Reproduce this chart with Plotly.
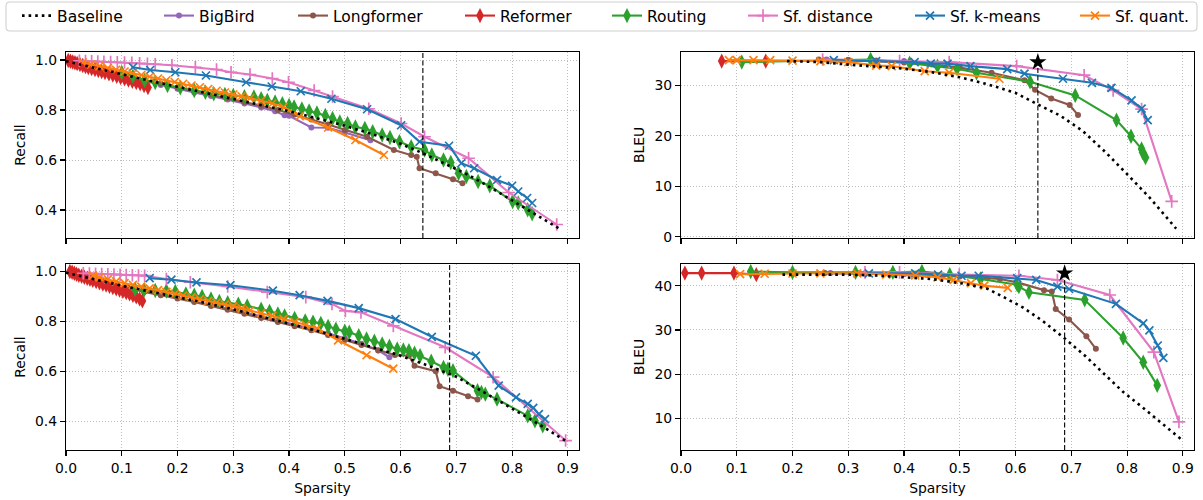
import plotly.graph_objects as go
from plotly.subplots import make_subplots

# ------------------------------------------------------------------ data
series_names = ["Baseline", "BigBird", "Longformer", "Reformer", "Routing",
                "Sf. distance", "Sf. k-means", "Sf. quant."]
sparsity_ticks = [0.0, 0.1, 0.2, 0.3, 0.4, 0.5, 0.6, 0.7, 0.8, 0.9]
recall_ticks = [0.4, 0.6, 0.8, 1.0]
bleu_ticks_top = [0, 10, 20, 30]
bleu_ticks_bottom = [10, 20, 30, 40]

# thresholds (vertical dashed line) and best points (star)
top_threshold = 0.64
top_star_bleu = 34.6
bottom_threshold = 0.688
bottom_star_bleu = 42.8

# ---- panel 1: top-left (Recall)
p1_baseline_x = [0.0, 0.05, 0.1, 0.15, 0.2, 0.25, 0.3, 0.35, 0.4, 0.45, 0.5, 0.55, 0.6, 0.64, 0.68, 0.72, 0.76, 0.8, 0.84, 0.889]
p1_baseline_y = [0.995, 0.968, 0.942, 0.917, 0.893, 0.869, 0.846, 0.821, 0.795, 0.767, 0.737, 0.703, 0.665, 0.627, 0.586, 0.542, 0.492, 0.44, 0.385, 0.32]
p1_bigbird_x = [0.02, 0.05, 0.08, 0.11, 0.14, 0.17, 0.2, 0.23, 0.26, 0.29, 0.32, 0.35, 0.375, 0.392, 0.40, 0.44, 0.47, 0.5, 0.546]
p1_bigbird_y = [0.985, 0.965, 0.948, 0.932, 0.916, 0.9, 0.885, 0.87, 0.856, 0.842, 0.826, 0.81, 0.795, 0.779, 0.777, 0.73, 0.729, 0.71, 0.679]
p1_longformer_x = [0.02, 0.05, 0.08, 0.11, 0.14, 0.17, 0.2, 0.23, 0.26, 0.29, 0.32, 0.35, 0.38, 0.41, 0.44, 0.47, 0.5, 0.54, 0.588, 0.619, 0.629, 0.634, 0.663, 0.694, 0.711]
p1_longformer_y = [0.987, 0.97, 0.953, 0.937, 0.921, 0.905, 0.89, 0.876, 0.862, 0.848, 0.832, 0.817, 0.8, 0.782, 0.762, 0.742, 0.72, 0.693, 0.64, 0.62, 0.613, 0.567, 0.547, 0.523, 0.507]
p1_reformer_x = [0.004, 0.008, 0.012, 0.016, 0.02, 0.025, 0.03, 0.035, 0.04, 0.046, 0.052, 0.058, 0.064, 0.07, 0.077, 0.084, 0.091, 0.098, 0.105, 0.112, 0.119, 0.126, 0.133, 0.14, 0.147]
p1_reformer_y = [0.998, 0.995, 0.992, 0.989, 0.986, 0.982, 0.978, 0.974, 0.97, 0.966, 0.962, 0.958, 0.954, 0.95, 0.945, 0.94, 0.935, 0.93, 0.925, 0.92, 0.915, 0.91, 0.905, 0.898, 0.89]
p1_routing_x = [0.10, 0.12, 0.141, 0.16, 0.182, 0.205, 0.23, 0.25, 0.265, 0.285, 0.30, 0.32, 0.337, 0.35, 0.361, 0.375, 0.388, 0.40, 0.409, 0.423, 0.436, 0.45, 0.465, 0.478, 0.491, 0.505, 0.519, 0.536, 0.55, 0.567, 0.581, 0.598, 0.619, 0.643, 0.656, 0.677, 0.69, 0.704, 0.718, 0.739, 0.76, 0.801, 0.811, 0.828, 0.836]
p1_routing_y = [0.95, 0.935, 0.918, 0.91, 0.898, 0.889, 0.878, 0.871, 0.865, 0.862, 0.858, 0.853, 0.852, 0.845, 0.838, 0.832, 0.825, 0.818, 0.812, 0.804, 0.796, 0.788, 0.778, 0.766, 0.752, 0.746, 0.732, 0.726, 0.713, 0.70, 0.69, 0.673, 0.653, 0.64, 0.62, 0.60, 0.59, 0.547, 0.534, 0.514, 0.497, 0.434, 0.428, 0.401, 0.385]
p1_sfdist_x = [0.024, 0.035, 0.046, 0.057, 0.068, 0.08, 0.092, 0.105, 0.118, 0.132, 0.146, 0.16, 0.19, 0.232, 0.27, 0.296, 0.33, 0.37, 0.399, 0.445, 0.478, 0.543, 0.601, 0.643, 0.722, 0.794, 0.88]
p1_sfdist_y = [0.997, 0.996, 0.995, 0.994, 0.993, 0.992, 0.991, 0.99, 0.989, 0.987, 0.985, 0.983, 0.979, 0.971, 0.962, 0.951, 0.942, 0.926, 0.911, 0.878, 0.854, 0.805, 0.746, 0.693, 0.607, 0.47, 0.342]
p1_sfkmeans_x = [0.12, 0.151, 0.196, 0.251, 0.323, 0.369, 0.421, 0.476, 0.54, 0.601, 0.634, 0.687, 0.709, 0.732, 0.773, 0.8, 0.811, 0.827, 0.836]
p1_sfkmeans_y = [0.971, 0.96, 0.951, 0.938, 0.911, 0.894, 0.875, 0.845, 0.803, 0.739, 0.673, 0.657, 0.587, 0.567, 0.52, 0.497, 0.474, 0.448, 0.428]
p1_sfquant_x = [0.03, 0.045, 0.06, 0.075, 0.09, 0.105, 0.12, 0.135, 0.15, 0.165, 0.18, 0.195, 0.21, 0.225, 0.24, 0.255, 0.27, 0.285, 0.30, 0.315, 0.33, 0.35, 0.37, 0.39, 0.419, 0.47, 0.519, 0.57]
p1_sfquant_y = [0.99, 0.982, 0.975, 0.968, 0.961, 0.954, 0.947, 0.94, 0.933, 0.926, 0.919, 0.912, 0.905, 0.898, 0.891, 0.884, 0.877, 0.87, 0.862, 0.855, 0.847, 0.837, 0.826, 0.812, 0.775, 0.73, 0.68, 0.62]

# ---- panel 2: top-right (BLEU)
p2_baseline_x = [0.19, 0.25, 0.3, 0.35, 0.4, 0.45, 0.5, 0.55, 0.6, 0.64, 0.68, 0.72, 0.76, 0.8, 0.84, 0.888]
p2_baseline_y = [34.8, 34.6, 34.1, 33.7, 33.3, 32.6, 31.6, 30.2, 28.5, 26.2, 24.0, 21.0, 16.9, 12.4, 7.8, 1.6]
p2_bigbird_x = [0.261, 0.3, 0.35, 0.4]
p2_bigbird_y = [35.1, 35.0, 34.9, 34.8]
p2_longformer_x = [0.247, 0.3, 0.35, 0.4, 0.45, 0.5, 0.557, 0.616, 0.635, 0.664, 0.697, 0.712]
p2_longformer_y = [35.1, 35.0, 34.8, 34.5, 34.1, 33.5, 32.5, 31.0, 29.1, 27.4, 26.1, 24.1]
p2_reformer_x = [0.073, 0.152]
p2_reformer_y = [34.8, 34.8]
p2_routing_x = [0.109, 0.34, 0.41, 0.46, 0.495, 0.53, 0.626, 0.707, 0.781, 0.807, 0.826, 0.828, 0.833]
p2_routing_y = [34.6, 35.1, 34.4, 33.8, 33.3, 32.5, 30.7, 28.0, 23.1, 19.9, 17.4, 16.7, 15.7]
p2_sfdist_x = [0.254, 0.392, 0.481, 0.602, 0.723, 0.775, 0.826, 0.88]
p2_sfdist_y = [35.1, 34.8, 34.6, 33.8, 32.0, 29.0, 25.3, 7.0]
p2_sfkmeans_x = [0.274, 0.35, 0.419, 0.448, 0.478, 0.519, 0.585, 0.616, 0.685, 0.737, 0.772, 0.808, 0.826, 0.837]
p2_sfkmeans_y = [35.0, 34.8, 34.6, 34.3, 34.3, 33.8, 33.2, 32.3, 31.3, 30.5, 29.5, 27.0, 25.4, 23.1]
p2_sfquant_x = [0.086, 0.1, 0.13, 0.16, 0.2, 0.25, 0.3, 0.35, 0.378, 0.437, 0.481, 0.571]
p2_sfquant_y = [35.0, 35.0, 35.0, 35.0, 34.9, 34.8, 34.6, 33.9, 33.8, 32.8, 32.5, 31.3]

# ---- panel 3: bottom-left (Recall)
p3_baseline_x = [0.0, 0.05, 0.1, 0.15, 0.2, 0.25, 0.3, 0.35, 0.4, 0.45, 0.5, 0.55, 0.6, 0.65, 0.7, 0.75, 0.8, 0.85, 0.9]
p3_baseline_y = [0.995, 0.968, 0.943, 0.92, 0.898, 0.874, 0.848, 0.82, 0.79, 0.762, 0.73, 0.697, 0.662, 0.622, 0.578, 0.515, 0.449, 0.385, 0.315]
p3_bigbird_x = [0.02, 0.05, 0.08, 0.11, 0.14, 0.17, 0.2, 0.23, 0.26, 0.29, 0.32, 0.35, 0.38, 0.41, 0.44, 0.47, 0.5, 0.53, 0.56, 0.58]
p3_bigbird_y = [0.985, 0.967, 0.952, 0.937, 0.921, 0.908, 0.895, 0.881, 0.866, 0.852, 0.836, 0.82, 0.804, 0.787, 0.77, 0.752, 0.732, 0.71, 0.684, 0.656]
p3_longformer_x = [0.02, 0.05, 0.08, 0.11, 0.14, 0.17, 0.2, 0.23, 0.26, 0.29, 0.32, 0.35, 0.38, 0.41, 0.44, 0.47, 0.5, 0.53, 0.56, 0.59, 0.615, 0.625, 0.663, 0.67, 0.694, 0.721, 0.738]
p3_longformer_y = [0.985, 0.966, 0.95, 0.935, 0.918, 0.905, 0.892, 0.878, 0.862, 0.847, 0.83, 0.813, 0.797, 0.78, 0.764, 0.745, 0.725, 0.705, 0.683, 0.665, 0.662, 0.622, 0.6, 0.54, 0.522, 0.5, 0.487]
p3_reformer_x = [0.007, 0.011, 0.015, 0.019, 0.023, 0.028, 0.033, 0.038, 0.043, 0.048, 0.054, 0.06, 0.066, 0.072, 0.078, 0.084, 0.09, 0.096, 0.102, 0.108, 0.114, 0.12, 0.126, 0.132, 0.137]
p3_reformer_y = [1.0, 0.997, 0.993, 0.989, 0.985, 0.981, 0.977, 0.973, 0.969, 0.965, 0.96, 0.955, 0.95, 0.946, 0.941, 0.936, 0.931, 0.926, 0.921, 0.915, 0.91, 0.904, 0.898, 0.89, 0.882]
p3_routing_x = [0.124, 0.14, 0.16, 0.18, 0.196, 0.215, 0.23, 0.244, 0.26, 0.275, 0.29, 0.309, 0.325, 0.35, 0.365, 0.38, 0.392, 0.41, 0.429, 0.443, 0.457, 0.47, 0.484, 0.5, 0.508, 0.525, 0.539, 0.553, 0.567, 0.58, 0.594, 0.605, 0.615, 0.625, 0.635, 0.655, 0.677, 0.685, 0.694, 0.738, 0.745, 0.752, 0.773, 0.828, 0.841, 0.855]
p3_routing_y = [0.929, 0.926, 0.924, 0.922, 0.92, 0.91, 0.905, 0.9, 0.89, 0.88, 0.875, 0.869, 0.862, 0.849, 0.84, 0.83, 0.822, 0.812, 0.802, 0.797, 0.792, 0.78, 0.769, 0.76, 0.756, 0.742, 0.729, 0.72, 0.709, 0.7, 0.689, 0.685, 0.682, 0.672, 0.662, 0.64, 0.615, 0.608, 0.602, 0.522, 0.515, 0.508, 0.488, 0.421, 0.401, 0.381]
p3_sfdist_x = [0.031, 0.042, 0.053, 0.064, 0.075, 0.086, 0.097, 0.108, 0.119, 0.13, 0.141, 0.18, 0.223, 0.29, 0.361, 0.43, 0.477, 0.501, 0.529, 0.587, 0.68, 0.766, 0.896]
p3_sfdist_y = [0.993, 0.992, 0.991, 0.99, 0.989, 0.988, 0.987, 0.986, 0.985, 0.984, 0.983, 0.97, 0.957, 0.94, 0.917, 0.897, 0.87, 0.842, 0.836, 0.782, 0.696, 0.576, 0.322]
p3_sfkmeans_x = [0.15, 0.189, 0.234, 0.295, 0.371, 0.419, 0.469, 0.525, 0.591, 0.656, 0.735, 0.776, 0.807, 0.828, 0.838, 0.848, 0.859]
p3_sfkmeans_y = [0.973, 0.967, 0.956, 0.945, 0.923, 0.905, 0.882, 0.853, 0.809, 0.738, 0.662, 0.542, 0.495, 0.469, 0.453, 0.428, 0.408]
p3_sfquant_x = [0.048, 0.06, 0.075, 0.09, 0.105, 0.12, 0.135, 0.15, 0.165, 0.18, 0.195, 0.21, 0.225, 0.24, 0.255, 0.27, 0.285, 0.3, 0.315, 0.33, 0.35, 0.37, 0.39, 0.41, 0.43, 0.45, 0.488, 0.539, 0.587]
p3_sfquant_y = [0.983, 0.976, 0.968, 0.96, 0.953, 0.946, 0.939, 0.932, 0.925, 0.918, 0.91, 0.903, 0.896, 0.889, 0.882, 0.875, 0.868, 0.86, 0.852, 0.844, 0.833, 0.822, 0.81, 0.798, 0.786, 0.772, 0.724, 0.664, 0.61]

# ---- panel 4: bottom-right (BLEU)
p4_baseline_x = [0.182, 0.25, 0.3, 0.35, 0.406, 0.45, 0.51, 0.55, 0.579, 0.613, 0.648, 0.689, 0.724, 0.758, 0.793, 0.827, 0.862, 0.9]
p4_baseline_y = [42.5, 42.5, 42.5, 42.3, 41.9, 41.5, 40.4, 39.3, 37.4, 35.1, 32.1, 28.0, 24.25, 20.1, 16.0, 12.6, 8.9, 5.0]
p4_bigbird_x = [0.268, 0.33, 0.4, 0.47, 0.55]
p4_bigbird_y = [42.85, 42.8, 42.6, 42.3, 41.8]
p4_longformer_x = [0.258, 0.32, 0.38, 0.44, 0.5, 0.572, 0.603, 0.651, 0.665, 0.672, 0.696, 0.727, 0.744]
p4_longformer_y = [42.85, 42.8, 42.7, 42.5, 42.1, 41.5, 40.75, 39.0, 38.7, 34.75, 32.35, 28.6, 25.75]
p4_reformer_x = [0.007, 0.037, 0.095, 0.135]
p4_reformer_y = [42.85, 42.85, 42.85, 42.5]
p4_routing_x = [0.125, 0.2, 0.313, 0.38, 0.432, 0.482, 0.537, 0.603, 0.606, 0.624, 0.724, 0.793, 0.829, 0.854]
p4_routing_y = [43.2, 43.0, 43.0, 43.0, 43.2, 42.5, 41.5, 40.2, 39.8, 38.5, 36.8, 28.2, 22.7, 17.5]
p4_sfdist_x = [0.33, 0.392, 0.499, 0.606, 0.675, 0.769, 0.848, 0.893]
p4_sfdist_y = [43.0, 43.0, 42.5, 42.25, 41.3, 37.9, 25.0, 9.25]
p4_sfkmeans_x = [0.337, 0.42, 0.461, 0.503, 0.534, 0.603, 0.637, 0.675, 0.696, 0.78, 0.829, 0.84, 0.855, 0.865]
p4_sfkmeans_y = [42.8, 42.8, 42.5, 42.25, 42.25, 41.7, 41.3, 39.8, 39.25, 35.9, 31.5, 29.9, 26.5, 23.7]
p4_sfquant_x = [0.106, 0.15, 0.2, 0.25, 0.316, 0.368, 0.42, 0.46, 0.489, 0.52, 0.544, 0.586]
p4_sfquant_y = [42.6, 42.7, 42.75, 42.8, 42.8, 42.5, 42.3, 41.9, 41.3, 40.6, 40.0, 39.5]

panels = [
    {"Baseline": (p1_baseline_x, p1_baseline_y), "BigBird": (p1_bigbird_x, p1_bigbird_y),
     "Longformer": (p1_longformer_x, p1_longformer_y), "Reformer": (p1_reformer_x, p1_reformer_y),
     "Routing": (p1_routing_x, p1_routing_y), "Sf. distance": (p1_sfdist_x, p1_sfdist_y),
     "Sf. k-means": (p1_sfkmeans_x, p1_sfkmeans_y), "Sf. quant.": (p1_sfquant_x, p1_sfquant_y)},
    {"Baseline": (p2_baseline_x, p2_baseline_y), "BigBird": (p2_bigbird_x, p2_bigbird_y),
     "Longformer": (p2_longformer_x, p2_longformer_y), "Reformer": (p2_reformer_x, p2_reformer_y),
     "Routing": (p2_routing_x, p2_routing_y), "Sf. distance": (p2_sfdist_x, p2_sfdist_y),
     "Sf. k-means": (p2_sfkmeans_x, p2_sfkmeans_y), "Sf. quant.": (p2_sfquant_x, p2_sfquant_y)},
    {"Baseline": (p3_baseline_x, p3_baseline_y), "BigBird": (p3_bigbird_x, p3_bigbird_y),
     "Longformer": (p3_longformer_x, p3_longformer_y), "Reformer": (p3_reformer_x, p3_reformer_y),
     "Routing": (p3_routing_x, p3_routing_y), "Sf. distance": (p3_sfdist_x, p3_sfdist_y),
     "Sf. k-means": (p3_sfkmeans_x, p3_sfkmeans_y), "Sf. quant.": (p3_sfquant_x, p3_sfquant_y)},
    {"Baseline": (p4_baseline_x, p4_baseline_y), "BigBird": (p4_bigbird_x, p4_bigbird_y),
     "Longformer": (p4_longformer_x, p4_longformer_y), "Reformer": (p4_reformer_x, p4_reformer_y),
     "Routing": (p4_routing_x, p4_routing_y), "Sf. distance": (p4_sfdist_x, p4_sfdist_y),
     "Sf. k-means": (p4_sfkmeans_x, p4_sfkmeans_y), "Sf. quant.": (p4_sfquant_x, p4_sfquant_y)},
]

# ------------------------------------------------------------------ style
W, H = 1203, 500
FONT = "DejaVu Sans"
TICK_FS = 13.9
LEG_FS = 15.5

styles = {
    "Baseline":     dict(color="black",   symbol=None),
    "BigBird":      dict(color="#9467bd", symbol="circle", size=6),
    "Longformer":   dict(color="#8c564b", symbol="circle", size=6),
    "Reformer":     dict(color="#d62728", symbol="diamond-tall", size=11),
    "Routing":      dict(color="#2ca02c", symbol="diamond-tall", size=11),
    "Sf. distance": dict(color="#e377c2", symbol="cross-thin", size=9),
    "Sf. k-means":  dict(color="#1f77b4", symbol="x-thin", size=8),
    "Sf. quant.":   dict(color="#ff7f0e", symbol="x-thin", size=8),
}
draw_order = ["BigBird", "Longformer", "Reformer", "Routing", "Sf. distance",
              "Sf. k-means", "Sf. quant.", "Baseline"]

fig = make_subplots(rows=2, cols=2)
cells = [(1, 1), (1, 2), (2, 1), (2, 2)]

for pi, (r, c) in enumerate(cells):
    data = panels[pi]
    for name in draw_order:
        xs, ys = data[name]
        st = styles[name]
        li = series_names.index(name)
        legend_id = "legend" if li == 0 else f"legend{li + 1}"
        if name == "Baseline":
            tr = go.Scatter(x=xs, y=ys, mode="lines", name=name,
                            line=dict(color="black", width=2.6, dash="2.6px,4px"))
        else:
            mk = dict(symbol=st["symbol"], size=st["size"], color=st["color"])
            if st["symbol"] in ("cross-thin", "x-thin"):
                mk["line"] = dict(color=st["color"], width=1.7)
            else:
                mk["line"] = dict(width=0)
            tr = go.Scatter(x=xs, y=ys, mode="lines+markers", name=name,
                            line=dict(color=st["color"], width=2.1), marker=mk)
        tr.update(legend=legend_id, showlegend=(pi == 0))
        fig.add_trace(tr, row=r, col=c)

# stars at the best configuration
fig.add_trace(go.Scatter(x=[top_threshold], y=[top_star_bleu], mode="markers",
                         marker=dict(symbol="star", size=13, color="black"),
                         showlegend=False), row=1, col=2)
fig.add_trace(go.Scatter(x=[bottom_threshold], y=[bottom_star_bleu], mode="markers",
                         marker=dict(symbol="star", size=13, color="black"),
                         showlegend=False), row=2, col=2)

# ------------------------------------------------------------------ axes
xl = [66 / W, 579 / W]
xr = [681 / W, 1194 / W]
yt = [1 - 238 / H, 1 - 52 / H]
yb = [1 - 450 / H, 1 - 264 / H]

common = dict(showline=True, linecolor="black", linewidth=1.1, mirror=True,
              ticks="outside", ticklen=5, tickwidth=1.1, tickcolor="black",
              showgrid=True, gridcolor="#bdbdbd", gridwidth=1, griddash="1px,2px",
              zeroline=False, automargin=False,
              tickfont=dict(family=FONT, size=TICK_FS, color="black"))

xr_range = [0, 0.92]
tfont = dict(family=FONT, size=TICK_FS, color="black")
fig.update_layout(
    xaxis=dict(common, domain=xl, range=xr_range, tickvals=sparsity_ticks, showticklabels=False),
    xaxis2=dict(common, domain=xr, range=xr_range, tickvals=sparsity_ticks, showticklabels=False),
    xaxis3=dict(common, domain=xl, range=xr_range, tickvals=sparsity_ticks, tickformat=".1f",
                title=dict(text="Sparsity", font=tfont, standoff=8)),
    xaxis4=dict(common, domain=xr, range=xr_range, tickvals=sparsity_ticks, tickformat=".1f",
                title=dict(text="Sparsity", font=tfont, standoff=8)),
    yaxis=dict(common, domain=yt, range=[0.288, 1.032], tickvals=recall_ticks, tickformat=".1f",
               title=dict(text="Recall", font=tfont, standoff=6)),
    yaxis2=dict(common, domain=yt, range=[-0.25, 36.6], tickvals=bleu_ticks_top,
                title=dict(text="BLEU", font=tfont, standoff=6)),
    yaxis3=dict(common, domain=yb, range=[0.284, 1.03], tickvals=recall_ticks, tickformat=".1f",
                title=dict(text="Recall", font=tfont, standoff=6)),
    yaxis4=dict(common, domain=yb, range=[2.9, 44.9], tickvals=bleu_ticks_bottom,
                title=dict(text="BLEU", font=tfont, standoff=6)),
)

# vertical dashed threshold lines
dash_line = dict(color="black", width=1.1, dash="5px,2.5px")
fig.add_shape(type="line", xref="x", yref="y domain", x0=top_threshold, x1=top_threshold,
              y0=0, y1=1, line=dash_line)
fig.add_shape(type="line", xref="x2", yref="y2", x0=top_threshold, x1=top_threshold,
              y0=-0.25, y1=top_star_bleu, line=dash_line)
fig.add_shape(type="line", xref="x3", yref="y3 domain", x0=bottom_threshold, x1=bottom_threshold,
              y0=0, y1=1, line=dash_line)
fig.add_shape(type="line", xref="x4", yref="y4", x0=bottom_threshold, x1=bottom_threshold,
              y0=2.9, y1=bottom_star_bleu, line=dash_line)

# legend frame (rounded)
lx0, lx1 = 6 / W, 1197 / W
ly0, ly1 = 1 - 31 / H, 1 - 2 / H
rx, ry = 4 / W, 4 / H
frame = (f"M {lx0 + rx},{ly1} L {lx1 - rx},{ly1} Q {lx1},{ly1} {lx1},{ly1 - ry} "
         f"L {lx1},{ly0 + ry} Q {lx1},{ly0} {lx1 - rx},{ly0} L {lx0 + rx},{ly0} "
         f"Q {lx0},{ly0} {lx0},{ly0 + ry} L {lx0},{ly1 - ry} Q {lx0},{ly1} {lx0 + rx},{ly1} Z")
fig.add_shape(type="path", xref="paper", yref="paper", path=frame,
              line=dict(color="#d0d0d0", width=1.1), fillcolor="white", layer="above")

legend_text_px = [57, 199, 333, 500, 647, 783, 950, 1115]
legends = {}
for i, name in enumerate(series_names):
    key = "legend" if i == 0 else f"legend{i + 1}"
    legends[key] = dict(x=(legend_text_px[i] - 40) / W, xanchor="left", xref="container",
                        y=1 - 16 / H, yanchor="middle", yref="container", orientation="h",
                        bgcolor="rgba(0,0,0,0)", borderwidth=0, itemwidth=30,
                        font=dict(family=FONT, size=LEG_FS, color="black"))
fig.update_layout(**legends)

fig.update_layout(width=W, height=H, margin=dict(l=0, r=0, t=0, b=0, autoexpand=False),
                  plot_bgcolor="white", paper_bgcolor="white", hovermode=False,
                  font=dict(family=FONT, size=TICK_FS, color="black"))

fig.write_html("out.html", config={"displayModeBar": False, "staticPlot": True},
               post_script="document.body.style.margin='0px';document.body.style.overflow='hidden';")
